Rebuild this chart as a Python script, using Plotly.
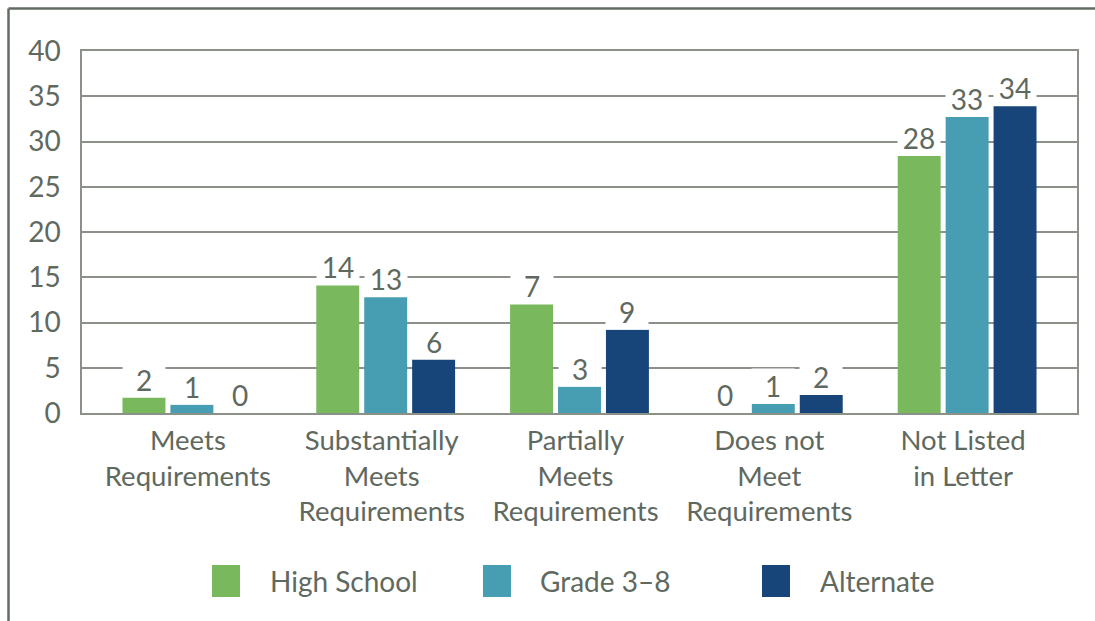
import plotly.graph_objects as go

categories = ["Meets<br>Requirements", "Substantially<br>Meets<br>Requirements",
              "Partially<br>Meets<br>Requirements", "Does not<br>Meet<br>Requirements",
              "Not Listed<br>in Letter"]
series_names = ["High School", "Grade 3\u20138", "Alternate"]
# bar heights as drawn in the picture
high_school = [1.7, 14.1, 12.0, 0.0, 28.4]
grade_3_8 = [0.9, 12.8, 2.9, 1.0, 32.7]
alternate = [0.0, 5.9, 9.2, 2.0, 33.9]
# data labels as printed
high_school_labels = ["2", "14", "7", "0", "28"]
grade_3_8_labels = ["1", "13", "3", "1", "33"]
alternate_labels = ["0", "6", "9", "2", "34"]
y_ticks = [0, 5, 10, 15, 20, 25, 30, 35, 40]

colors = ["#79b85d", "#479db2", "#174579"]
text_color = "#5f695f"
grid_color = "#8b9089"
frame_color = "#636c63"
FONT = "Lato"

W, H = 1095, 621
L, R, T, B = 82, 1077, 51, 413
X_RANGE = [-0.567, 4.567]
BARGAP = 0.258
GROUPGAP = 0.104


def px(x):
    return (x - L) / (R - L)


def py(y):
    return (B - y) / (B - T)


fig = go.Figure()
values = [high_school, grade_3_8, alternate]
labels = [high_school_labels, grade_3_8_labels, alternate_labels]
for name, vals, col in zip(series_names, values, colors):
    fig.add_trace(go.Bar(x=categories, y=vals, name=name, marker_color=col,
                         marker_line_width=0, showlegend=False))

slot = (1 - BARGAP) / 3
for si, labs in enumerate(labels):
    off = (si - 1) * slot
    for ci, lab in enumerate(labs):
        fig.add_annotation(x=ci + off, y=values[si][ci], xref="x", yref="y",
                           text=lab, showarrow=False, yanchor="bottom",
                           yshift=0, bgcolor="white", borderpad=0, width=42,
                           font=dict(family=FONT, size=28, color=text_color))

# legend drawn manually (large square swatches)
leg_sq_x = [212, 483, 762]
leg_tx_x = [268, 538, 818]
for name, col, sx, tx in zip(series_names, colors, leg_sq_x, leg_tx_x):
    fig.add_shape(type="rect", xref="paper", yref="paper",
                  x0=px(sx), x1=px(sx + 28), y0=py(597), y1=py(565),
                  fillcolor=col, line_width=0)
    fig.add_annotation(x=px(tx), y=py(581), xref="paper", yref="paper",
                       text=name, showarrow=False, xanchor="left", yanchor="middle",
                       font=dict(family=FONT, size=28, color=text_color))

# outer frame (top and left lines)
fig.add_shape(type="line", xref="paper", yref="paper",
              x0=px(8.5), x1=px(W + 5), y0=py(8.5), y1=py(8.5),
              line=dict(color=frame_color, width=2.5))
fig.add_shape(type="line", xref="paper", yref="paper",
              x0=px(8.5), x1=px(8.5), y0=py(8.5), y1=py(H + 5),
              line=dict(color=frame_color, width=2.5))

fig.update_layout(
    width=W, height=H,
    margin=dict(l=L, r=W - R, t=T, b=H - B, pad=0),
    paper_bgcolor="white", plot_bgcolor="white",
    barmode="group", bargap=BARGAP, bargroupgap=GROUPGAP,
    font=dict(family=FONT, size=28, color=text_color),
)
fig.update_xaxes(range=X_RANGE, showline=True, mirror=True, linecolor=grid_color,
                 linewidth=1.5, showgrid=False, ticks="", ticklabelstandoff=2,
                 ticklabelshift=-4,
                 tickfont=dict(family=FONT, size=27.5, color=text_color))
fig.update_yaxes(range=[0, 40], tickvals=y_ticks, showline=True, mirror=True,
                 linecolor=grid_color, linewidth=1.5, gridcolor=grid_color,
                 gridwidth=1.5, zeroline=False, ticks="", ticklabelstandoff=14,
                 tickfont=dict(family=FONT, size=28, color=text_color))

fig.write_html("out.html")
